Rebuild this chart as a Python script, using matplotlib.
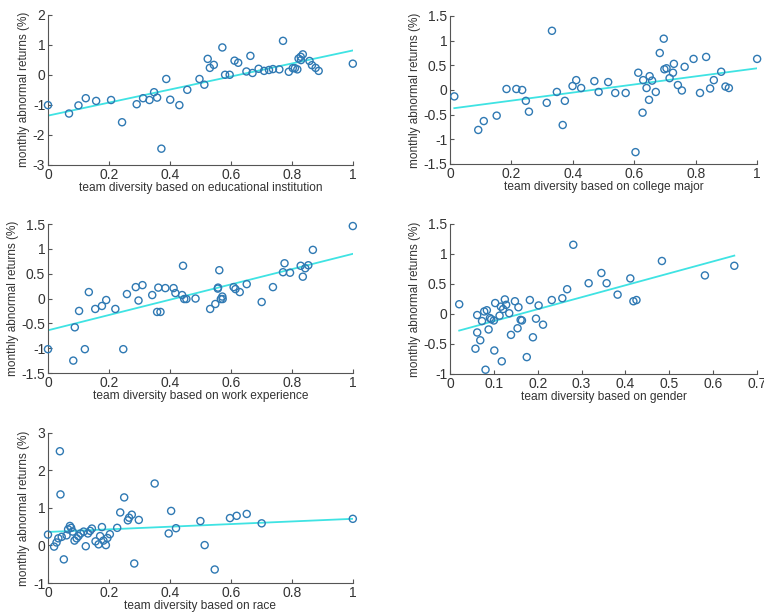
import numpy as np
import matplotlib
matplotlib.use("Agg")
import matplotlib.pyplot as plt

plt.rcParams['font.family'] = ['Liberation Sans', 'DejaVu Sans']
plt.rcParams['axes.unicode_minus'] = False

# educational institution
edu_x = [0, 0.069, 0.10, 0.124, 0.158, 0.207, 0.243, 0.291, 0.312, 0.333, 0.348, 0.358,
         0.372, 0.388, 0.401, 0.431, 0.457, 0.497, 0.513, 0.524, 0.531, 0.544, 0.572,
         0.581, 0.596, 0.612, 0.624, 0.651, 0.664, 0.671, 0.691, 0.709, 0.725, 0.738,
         0.759, 0.771, 0.79, 0.803, 0.81, 0.818, 0.822, 0.829, 0.836, 0.83, 0.858,
         0.866, 0.878, 0.888, 1.0]
edu_y = [-1.01, -1.29, -1.02, -0.78, -0.87, -0.84, -1.58, -0.98, -0.78, -0.84, -0.58, -0.76,
         -2.46, -0.14, -0.83, -1.01, -0.5, -0.14, -0.33, 0.53, 0.23, 0.33, 0.91,
         0.0, 0.0, 0.47, 0.4, 0.11, 0.63, 0.06, 0.2, 0.13, 0.16, 0.19,
         0.18, 1.13, 0.1, 0.22, 0.22, 0.18, 0.54, 0.6, 0.68, 0.49, 0.46,
         0.32, 0.23, 0.13, 0.37]

# college major
maj_x = [0.014, 0.092, 0.11, 0.152, 0.184, 0.216, 0.235, 0.247, 0.257, 0.315, 0.332, 0.348,
         0.367, 0.374, 0.399, 0.411, 0.427, 0.47, 0.484, 0.515, 0.538, 0.572, 0.604,
         0.613, 0.627, 0.629, 0.64, 0.648, 0.65, 0.658, 0.67, 0.683, 0.696, 0.698,
         0.705, 0.715, 0.726, 0.729, 0.742, 0.755, 0.764, 0.793, 0.814, 0.834, 0.847,
         0.859, 0.883, 0.897, 0.908, 1.0]
maj_y = [-0.13, -0.81, -0.63, -0.52, 0.02, 0.02, 0.0, -0.22, -0.44, -0.26, 1.2, -0.04,
         -0.71, -0.22, 0.08, 0.2, 0.04, 0.18, -0.04, 0.16, -0.06, -0.06, -1.26,
         0.35, -0.46, 0.2, 0.04, -0.2, 0.28, 0.19, -0.04, 0.75, 1.04, 0.42,
         0.44, 0.24, 0.35, 0.53, 0.1, -0.01, 0.47, 0.63, -0.06, 0.67, 0.03,
         0.2, 0.37, 0.07, 0.04, 0.63]

# work experience
wrk_x = [0, 0.083, 0.088, 0.102, 0.121, 0.134, 0.155, 0.177, 0.191, 0.221, 0.247, 0.259,
         0.288, 0.297, 0.31, 0.342, 0.358, 0.362, 0.369, 0.385, 0.412, 0.418, 0.44,
         0.443, 0.447, 0.454, 0.484, 0.532, 0.549, 0.557, 0.558, 0.562, 0.567, 0.572,
         0.573, 0.609, 0.615, 0.629, 0.652, 0.701, 0.738, 0.771, 0.776, 0.794, 0.829,
         0.836, 0.844, 0.854, 0.869, 1.0]
wrk_y = [-1.02, -1.25, -0.58, -0.25, -1.02, 0.13, -0.21, -0.15, -0.03, -0.21, -1.02, 0.09,
         0.23, -0.04, 0.27, 0.07, -0.27, 0.22, -0.27, 0.21, 0.21, 0.11, 0.07,
         0.66, -0.01, -0.01, 0.0, -0.21, -0.11, 0.2, 0.22, 0.57, -0.01, 0.04,
         -0.01, 0.23, 0.19, 0.13, 0.29, -0.07, 0.23, 0.53, 0.71, 0.52, 0.66,
         0.44, 0.61, 0.67, 0.98, 1.46]

# gender
gen_x = [0.021, 0.058, 0.062, 0.062, 0.069, 0.073, 0.078, 0.081, 0.084, 0.088, 0.091, 0.094,
         0.1, 0.101, 0.103, 0.113, 0.116, 0.118, 0.121, 0.125, 0.128, 0.135, 0.139,
         0.148, 0.154, 0.156, 0.161, 0.164, 0.175, 0.182, 0.189, 0.196, 0.202, 0.212,
         0.232, 0.256, 0.267, 0.281, 0.316, 0.345, 0.357, 0.382, 0.411, 0.418, 0.425,
         0.483, 0.581, 0.648]
gen_y = [0.16, -0.58, -0.02, -0.31, -0.44, -0.12, 0.04, -0.93, 0.06, -0.26, -0.07, -0.09,
         -0.11, -0.61, 0.18, -0.03, 0.12, -0.79, 0.08, 0.24, 0.15, 0.01, -0.35,
         0.21, -0.24, 0.11, -0.1, -0.11, -0.72, 0.23, -0.39, -0.08, 0.14, -0.18,
         0.23, 0.26, 0.41, 1.15, 0.51, 0.68, 0.51, 0.32, 0.59, 0.21, 0.23,
         0.88, 0.64, 0.8]

# race
rac_x = [0, 0.02, 0.028, 0.034, 0.039, 0.041, 0.045, 0.052, 0.061, 0.066, 0.072, 0.076,
         0.081, 0.087, 0.094, 0.1, 0.107, 0.117, 0.124, 0.131, 0.138, 0.144, 0.156,
         0.166, 0.171, 0.177, 0.182, 0.19, 0.195, 0.203, 0.227, 0.237, 0.25, 0.262,
         0.266, 0.275, 0.283, 0.298, 0.35, 0.396, 0.404, 0.42, 0.5, 0.514, 0.547,
         0.597, 0.619, 0.652, 0.701, 1.0]
rac_y = [0.29, -0.03, 0.08, 0.19, 2.51, 1.36, 0.23, -0.37, 0.27, 0.43, 0.52, 0.47,
         0.37, 0.13, 0.19, 0.25, 0.32, 0.37, -0.02, 0.32, 0.39, 0.45, 0.11,
         0.03, 0.25, 0.49, 0.13, 0.01, 0.2, 0.3, 0.47, 0.88, 1.28, 0.67,
         0.74, 0.82, -0.48, 0.68, 1.65, 0.32, 0.92, 0.46, 0.65, 0.01, -0.64,
         0.73, 0.79, 0.84, 0.59, 0.71]

# fitted lines: (intercept, slope)
edu_fit = (-1.36, 2.17)
maj_fit = (-0.38, 0.82)
wrk_fit = (-0.64, 1.54)
gen_fit = (-0.32, 1.99)
rac_fit = (0.36, 0.35)

xlabels = ['team diversity based on educational institution',
           'team diversity based on college major',
           'team diversity based on work experience',
           'team diversity based on gender',
           'team diversity based on race']
ylabel = 'monthly abnormal returns (%)'

panels = [
    (edu_x, edu_y, edu_fit, (0, 1), np.arange(0, 1.01, 0.2), (-3, 2), np.arange(-3, 2.1, 1)),
    (maj_x, maj_y, maj_fit, (0, 1), np.arange(0, 1.01, 0.2), (-1.5, 1.5), np.arange(-1.5, 1.6, 0.5)),
    (wrk_x, wrk_y, wrk_fit, (0, 1), np.arange(0, 1.01, 0.2), (-1.5, 1.5), np.arange(-1.5, 1.6, 0.5)),
    (gen_x, gen_y, gen_fit, (0, 0.7), np.arange(0, 0.71, 0.1), (-1, 1.5), np.arange(-1, 1.6, 0.5)),
    (rac_x, rac_y, rac_fit, (0, 1), np.arange(0, 1.01, 0.2), (-1, 3), np.arange(-1, 3.1, 1)),
]

positions = [
    [0.0628, 0.731, 0.399, 0.245],
    [0.589, 0.7325, 0.402, 0.2414],
    [0.0628, 0.3915, 0.399, 0.243],
    [0.589, 0.390, 0.402, 0.245],
    [0.0628, 0.0489, 0.399, 0.245],
]

pt_color = '#2f79b3'
line_color = '#3fe3e3'
txt_color = '#333333'

fig = plt.figure(figsize=(7.64, 6.13), dpi=100)

for i, (x, y, fit, xl, xt, yl, yt) in enumerate(panels):
    ax = fig.add_axes(positions[i])
    x = np.array(x)
    y = np.array(y)
    xs = np.array([x.min(), x.max()])
    ax.plot(xs, fit[0] + fit[1] * xs, color=line_color, lw=1.3, zorder=2)
    ax.scatter(x, y, s=26, facecolors='none', edgecolors=pt_color, linewidths=1.0,
               clip_on=False, zorder=3)
    ax.set_xlim(*xl)
    ax.set_ylim(*yl)
    ax.set_xticks(xt)
    ax.set_yticks(yt)
    ax.set_xticklabels(['%g' % round(v, 2) for v in xt])
    ax.set_yticklabels(['%g' % round(v, 2) for v in yt])
    for s in ['top', 'right']:
        ax.spines[s].set_visible(False)
    for s in ['left', 'bottom']:
        ax.spines[s].set_color('#555555')
        ax.spines[s].set_linewidth(0.8)
    ax.tick_params(direction='in', length=3, width=0.8, colors='#555555',
                   labelsize=10, labelcolor=txt_color, pad=2)
    ax.set_xlabel(xlabels[i], fontsize=8.6, color=txt_color, labelpad=0)
    ax.set_ylabel(ylabel, fontsize=8.5, color=txt_color, labelpad=2)

fig.savefig('out.png', dpi=100)
